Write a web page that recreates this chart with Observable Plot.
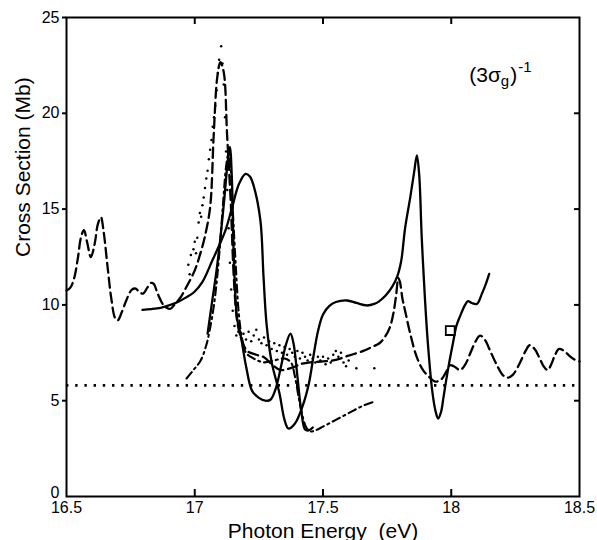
<!DOCTYPE html>
<html><head><meta charset="utf-8">
<script src="https://cdn.jsdelivr.net/npm/d3@7"></script>
<script src="https://cdn.jsdelivr.net/npm/@observablehq/plot@0.6"></script>
<style>body{margin:0;background:#fff} svg{display:block}</style>
</head><body><div id="chart"></div>
<script>
// ---- axis ticks ----
const xTicks = [16.5, 17, 17.5, 18, 18.5];
const yTicks = [5, 10, 15, 20, 25];
const yZeroTick = [0];
const xInnerTicks = [17, 17.5, 18];
const yInnerTicks = [5, 10, 15, 20];
const xTickLabels = ["16.5", "17", "17.5", "18", "18.5"];

// ---- solid curve (broad, long) ----
const solidBroadX = [16.796,16.83,16.867,16.9,16.932,16.965,16.997,17.03,17.068,17.095,17.12,17.146,17.172,17.198,17.215,17.23,17.256,17.268,17.28,17.3,17.33,17.35,17.365,17.39,17.42,17.445,17.465,17.48,17.5,17.525,17.55,17.594,17.63,17.67,17.7,17.72,17.745,17.77,17.79,17.805,17.82,17.84,17.855,17.866,17.875,17.885,17.898,17.91,17.925,17.938,17.949,17.96,17.97,17.98,17.995,18.008,18.02,18.034,18.054,18.065,18.08,18.1,18.12,18.135,18.148];
const solidBroadY = [9.74,9.78,9.85,9.98,10.14,10.38,10.66,11.2,12.3,13.1,13.9,15.1,16.3,16.84,16.7,16.2,14.4,11.5,9.0,7.0,5.4,4.0,3.55,3.8,4.7,5.9,7.5,8.6,9.5,9.95,10.15,10.23,10.1,9.97,10.05,10.2,10.5,10.95,11.5,12.3,14.0,15.6,16.9,17.8,16.8,13.5,10.2,7.8,5.6,4.5,4.07,4.4,5.2,6.05,7.2,8.1,8.9,9.4,10.0,10.2,10.1,10.05,10.6,11.1,11.62];

// ---- solid curve (narrow) ----
const solidNarrowX = [17.05,17.068,17.085,17.1,17.115,17.128,17.137,17.145,17.15,17.155,17.165,17.178,17.2,17.224,17.25,17.275,17.295,17.315,17.335,17.355,17.373,17.385,17.4,17.415,17.43,17.445,17.46];
const solidNarrowY = [8.5,10.2,11.8,13.5,15.5,17.4,18.25,16.5,13.5,11.5,9.3,8.5,6.8,5.5,5.15,5.0,5.05,5.6,6.7,7.9,8.5,8.0,6.3,4.5,3.5,3.45,3.6];

// ---- dash-dot curve ----
const dashDotX = [16.968,16.995,17.023,17.045,17.06,17.075,17.087,17.1,17.112,17.122,17.13,17.138,17.148,17.16,17.172,17.185,17.2,17.23,17.27,17.31,17.35,17.375,17.39,17.405,17.42,17.435,17.45,17.47,17.5,17.55,17.6,17.65,17.7];
const dashDotY = [6.16,6.6,7.1,7.9,8.8,10.0,11.4,13.4,15.6,17.2,17.8,17.4,15.0,12.0,9.5,8.2,7.5,7.2,7.0,7.1,7.2,7.0,6.3,5.2,4.2,3.6,3.4,3.45,3.65,4.0,4.35,4.7,4.95];

// ---- dashed curve ----
const dashedX = [16.5,16.515,16.53,16.545,16.556,16.568,16.58,16.595,16.61,16.622,16.634,16.645,16.66,16.675,16.69,16.7,16.715,16.735,16.755,16.77,16.785,16.8,16.815,16.83,16.84,16.855,16.875,16.89,16.906,16.92,16.945,16.97,17.0,17.02,17.04,17.06,17.074,17.088,17.1,17.113,17.126,17.14,17.152,17.165,17.18,17.204,17.24,17.27,17.3,17.334,17.36,17.385,17.41,17.45,17.5,17.54,17.6,17.657,17.69,17.72,17.74,17.76,17.775,17.785,17.794,17.8,17.81,17.82,17.84,17.865,17.89,17.917,17.937,17.96,17.98,17.995,18.01,18.034,18.055,18.075,18.095,18.112,18.13,18.155,18.18,18.2,18.22,18.24,18.265,18.29,18.306,18.325,18.345,18.36,18.376,18.39,18.405,18.42,18.44,18.46,18.48,18.5];
const dashedY = [10.75,10.9,11.4,12.5,13.5,13.9,13.3,12.5,13.2,14.2,14.58,13.8,12.0,10.3,9.3,9.2,9.6,10.3,10.8,10.85,10.65,10.6,10.9,11.15,11.1,10.6,10.05,9.85,9.8,10.0,10.4,11.0,11.8,12.6,13.6,15.1,18.9,21.9,22.67,22.15,18.9,15.45,11.5,9.2,8.3,7.6,7.4,7.27,6.9,6.6,6.65,6.75,6.9,7.0,7.05,7.1,7.35,7.6,7.8,8.0,8.3,8.8,9.6,10.5,11.4,11.2,10.3,9.7,8.5,7.3,6.6,6.2,6.0,6.1,6.5,6.85,6.8,6.6,6.9,7.5,8.1,8.4,8.2,7.5,6.8,6.35,6.2,6.35,6.9,7.6,7.9,7.7,7.2,6.8,6.6,6.9,7.4,7.7,7.6,7.35,7.15,7.05];

// ---- dotted (scattered points) ----
const dotsX = [16.975,16.98,16.985,16.995,17.0,17.005,17.01,17.015,17.02,17.025,17.03,17.035,17.04,17.045,17.05,17.055,17.06,17.065,17.07,17.075,17.08,17.085,17.09,17.095,17.103,17.108,17.113,17.118,17.122,17.127,17.132,17.137,17.142,17.148,17.155,17.162,17.17,17.18,17.19,17.2,17.21,17.22,17.23,17.24,17.25,17.26,17.27,17.28,17.29,17.3,17.31,17.32,17.33,17.34,17.35,17.36,17.37,17.38,17.39,17.4,17.41,17.42,17.43,17.44,17.45,17.46,17.47,17.48,17.49,17.5,17.51,17.52,17.53,17.54,17.55,17.56,17.57,17.58,17.59,17.6,17.63,17.7];
const dotsY = [12.1,11.6,12.6,12.9,13.3,12.7,13.5,14.3,14.8,14.6,15.2,15.6,16.1,16.6,17.0,17.6,18.1,18.6,19.3,19.8,20.4,21.2,22.1,22.8,23.5,22.6,21.5,19.8,18.0,16.0,14.0,12.2,10.8,9.7,8.9,8.4,8.6,8.3,8.5,8.2,8.6,8.1,8.4,8.7,8.2,8.0,8.3,7.9,8.1,7.7,8.0,7.6,7.9,7.5,7.8,7.4,7.7,7.5,7.3,7.6,7.2,7.5,7.3,7.1,7.4,7.2,7.0,7.3,7.1,7.3,6.9,7.2,7.0,7.4,7.6,7.3,7.5,7.0,6.8,7.1,6.7,6.7];

const referenceLevel = 5.8;
const squareX = [17.996];
const squareY = [8.66];

const xTitle = "Photon Energy  (eV)";
const yTitle = "Cross Section (Mb)";
const labelPos = {x: 18.072, y: 21.62};

const zip = (xs, ys) => xs.map((x, i) => ({x, y: ys[i]}));
const solidBroad = zip(solidBroadX, solidBroadY);
const solidNarrow = zip(solidNarrowX, solidNarrowY);
const dashDot = zip(dashDotX, dashDotY);
const dashed = zip(dashedX, dashedY);
const dots = zip(dotsX, dotsY);
const squares = zip(squareX, squareY);

const font = "'Liberation Sans', Arial, Helvetica, sans-serif";

const plot = Plot.plot({
  width: 597, height: 540,
  marginLeft: 66, marginRight: 18, marginTop: 17, marginBottom: 44,
  style: {fontFamily: font, background: "#fff", color: "#000"},
  x: {domain: [16.5, 18.5]},
  y: {domain: [0, 25]},
  marks: [
    Plot.ruleY([referenceLevel], {stroke: "#000", strokeWidth: 2.6, strokeDasharray: "2.4,6.8"}),
    Plot.line(dashed, {x: "x", y: "y", curve: "catmull-rom", stroke: "#000", strokeWidth: 2.3, strokeDasharray: "10,5"}),
    Plot.line(dashDot, {x: "x", y: "y", curve: "catmull-rom", stroke: "#000", strokeWidth: 2.1, strokeDasharray: "8,4,2,4"}),
    Plot.line(solidNarrow, {x: "x", y: "y", curve: "catmull-rom", stroke: "#000", strokeWidth: 2.3}),
    Plot.line(solidBroad, {x: "x", y: "y", curve: "catmull-rom", stroke: "#000", strokeWidth: 2.3}),
    Plot.dot(dots, {x: "x", y: "y", r: 1.25, fill: "#000", stroke: null}),
    Plot.dot(squares, {x: "x", y: "y", symbol: "square", r: 5, stroke: "#000", strokeWidth: 1.8, fill: "#fff"}),
    Plot.axisY({ticks: yTicks, tickSize: 4, tickPadding: 3, fontSize: 16, label: null, strokeWidth: 2}),
    Plot.axisY({ticks: yZeroTick, tickSize: 0, tickPadding: 7, fontSize: 16, label: null, dy: -4}),
    Plot.axisY({anchor: "right", ticks: yInnerTicks, tickSize: -6, text: null, label: null, strokeWidth: 2}),
    Plot.axisX({ticks: xTicks, tickSize: 0, tickPadding: 5, fontSize: 16, label: null, tickFormat: (d, i) => xTickLabels[i]}),
    Plot.axisX({ticks: xInnerTicks, tickSize: -7, text: null, label: null, strokeWidth: 2}),
    Plot.axisX({anchor: "top", ticks: xInnerTicks, tickSize: -6, text: null, label: null, strokeWidth: 2}),
    Plot.text([xTitle], {text: d => d, frameAnchor: "bottom", dy: 41, lineAnchor: "bottom", fontSize: 21}),
    Plot.text([yTitle], {text: d => d, frameAnchor: "left", dx: -37, rotate: -90, lineAnchor: "bottom", fontSize: 21}),
    Plot.frame({stroke: "#000", strokeWidth: 2})
  ]
});

// annotation with sub/superscripts
const sx = plot.scale("x"), sy = plot.scale("y");
const t = d3.select(plot).append("text")
  .attr("x", sx.apply(labelPos.x)).attr("y", sy.apply(labelPos.y))
  .attr("text-anchor", "start")
  .attr("font-family", font).attr("font-size", 21).attr("fill", "#000");
t.append("tspan").text("(3σ");
t.append("tspan").attr("font-size", 15).attr("dy", 4).text("g");
t.append("tspan").attr("dy", -4).attr("dx", 1).text(")");
t.append("tspan").attr("font-size", 15).attr("dy", -10).attr("dx", 1).text("-1");

document.getElementById("chart").appendChild(plot);
</script>
</body></html>
